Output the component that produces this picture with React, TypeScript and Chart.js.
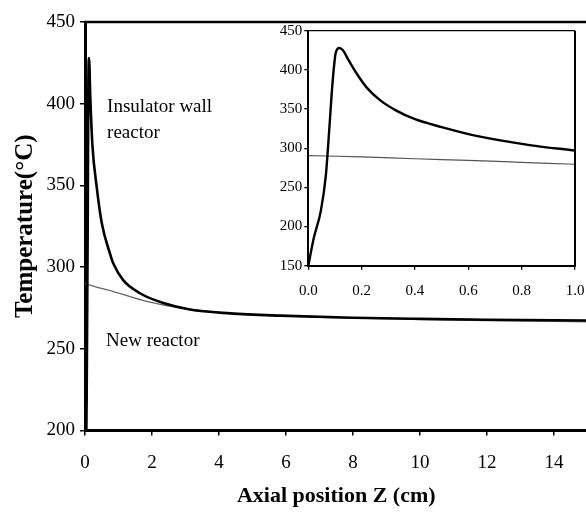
import React, { useEffect, useRef } from 'react';
import { Chart, registerables } from 'chart.js';

Chart.register(...registerables);

const SERIF = "'Liberation Serif', 'Times New Roman', Times, serif";

// ---- Main chart data (axial position in cm, temperature in °C) ----
const mainInsulatorZ = [0, 0.05, 0.08, 0.1, 0.12, 0.16, 0.22, 0.35, 0.5, 0.75, 0.85, 1.14, 1.64, 2.34, 3.13, 4.33, 5.82, 8, 10, 12, 15];
const mainInsulatorT = [150, 220, 321, 410, 428, 403, 375, 349, 327, 308, 302, 292, 284, 278, 274, 271.7, 270.3, 269, 268.3, 267.8, 267.3];
const mainNewZ = [0, 0.15, 0.85, 1.84, 2.84, 4.33, 6, 8, 10, 12, 15];
const mainNewT = [290, 289, 285, 279, 275, 271.7, 270, 268.8, 268, 267.3, 266.5];

// ---- Inset data (first 1 cm) ----
const insetInsulatorZ = [0, 0.021, 0.047, 0.066, 0.078, 0.091, 0.103, 0.116, 0.13, 0.15, 0.18, 0.22, 0.27, 0.33, 0.4, 0.5, 0.64, 0.83, 1.0];
const insetInsulatorT = [150, 186, 220, 266, 321, 384, 422, 428, 425, 413, 396, 377, 361, 348, 337, 327, 315, 304, 297];
const insetNewZ = [0, 0.2, 0.4, 0.6, 0.8, 1.0];
const insetNewT = [290.5, 289, 286.5, 284.5, 282, 279.5];

// ---- Axis settings ----
const mainXMin = 0, mainXMax = 15, mainXStep = 2, mainXLastTick = 14;
const mainYMin = 200, mainYMax = 450, mainYStep = 50;
const insetXMin = 0, insetXMax = 1, insetXStep = 0.2;
const insetYMin = 150, insetYMax = 450, insetYStep = 50;

const xTitle = 'Axial position Z (cm)';
const yTitle = 'Temperature(°C)';

// text annotations anchored in data coordinates
const annotationTexts = ['Insulator wall', 'reactor', 'New reactor'];
const annotationZ = [0.66, 0.66, 0.63];
const annotationT = [398, 382, 254.8];

const pts = (xs: number[], ys: number[]) => xs.map((x, i) => ({ x, y: ys[i] }));

const noEdgePadding = (s: any) => {
  s.paddingLeft = 0;
  s.paddingRight = 0;
  s.paddingTop = 0;
  s.paddingBottom = 0;
};

const mainFrame = {
  id: 'mainFrame',
  afterDraw(chart: any) {
    const { ctx, chartArea } = chart;
    ctx.save();
    ctx.strokeStyle = '#000';
    ctx.lineWidth = 2.5;
    ctx.beginPath();
    ctx.moveTo(chartArea.left - 1, chartArea.top);
    ctx.lineTo(chart.width, chartArea.top);
    ctx.stroke();
    ctx.restore();
  },
};

const mainLabels = {
  id: 'mainLabels',
  afterDatasetsDraw(chart: any) {
    const { ctx, scales } = chart;
    ctx.save();
    ctx.fillStyle = '#000';
    ctx.font = `19px ${SERIF}`;
    ctx.textAlign = 'left';
    ctx.textBaseline = 'middle';
    annotationTexts.forEach((t, i) => {
      ctx.fillText(t, scales.x.getPixelForValue(annotationZ[i]), scales.y.getPixelForValue(annotationT[i]));
    });
    ctx.restore();
  },
};

const insetFrame = {
  id: 'insetFrame',
  afterDraw(chart: any) {
    const { ctx, chartArea } = chart;
    ctx.save();
    ctx.strokeStyle = '#000';
    ctx.lineWidth = 1.3;
    ctx.beginPath();
    ctx.moveTo(chartArea.left, chartArea.top);
    ctx.lineTo(chartArea.right, chartArea.top);
    ctx.stroke();
    ctx.lineWidth = 2;
    ctx.beginPath();
    ctx.moveTo(chartArea.right, chartArea.top);
    ctx.lineTo(chartArea.right, chartArea.bottom + 1);
    ctx.stroke();
    ctx.restore();
  },
};

export default function App() {
  const mainRef = useRef<HTMLCanvasElement>(null);
  const insetRef = useRef<HTMLCanvasElement>(null);

  useEffect(() => {
    if (!mainRef.current || !insetRef.current) return;
    const tickGrid = { drawOnChartArea: false, drawTicks: true, tickLength: 5, color: '#000', lineWidth: 1.5 };

    const main = new Chart(mainRef.current, {
      type: 'line',
      data: {
        datasets: [
          {
            label: 'Insulator wall reactor',
            data: pts(mainInsulatorZ, mainInsulatorT),
            borderColor: '#000',
            borderWidth: 2.6,
            pointRadius: 0,
            cubicInterpolationMode: 'monotone',
            fill: false,
          },
          {
            label: 'New reactor',
            data: pts(mainNewZ, mainNewT),
            borderColor: '#666',
            borderWidth: 1.3,
            pointRadius: 0,
            cubicInterpolationMode: 'monotone',
            fill: false,
          },
        ],
      },
      options: {
        animation: false,
        responsive: false,
        layout: { padding: { left: 0, top: 22, right: 12.5, bottom: 0 } },
        plugins: { legend: { display: false }, tooltip: { enabled: false } },
        scales: {
          x: {
            type: 'linear',
            min: mainXMin,
            max: mainXMax,
            bounds: 'data',
            ticks: { stepSize: mainXStep, color: '#000', font: { family: SERIF, size: 19 }, padding: 16, maxRotation: 0 },
            afterBuildTicks: (s: any) => { s.ticks = s.ticks.filter((t: any) => t.value <= mainXLastTick); },
            grid: tickGrid,
            border: { display: true, color: '#000', width: 3 },
            title: { display: true, text: xTitle, color: '#000', font: { family: SERIF, size: 22, weight: 'bold' }, padding: { top: 0, bottom: 8 } },
            afterFit: (s: any) => { s.height = 87.5; noEdgePadding(s); },
          },
          y: {
            type: 'linear',
            min: mainYMin,
            max: mainYMax,
            bounds: 'data',
            ticks: { stepSize: mainYStep, color: '#000', font: { family: SERIF, size: 19 }, padding: 5 },
            grid: tickGrid,
            border: { display: true, color: '#000', width: 3 },
            title: { display: true, text: yTitle, color: '#000', font: { family: SERIF, size: 25, weight: 'bold' }, padding: { top: 11, bottom: 0 } },
            afterFit: (s: any) => { s.width = 85; noEdgePadding(s); },
          },
        },
      },
      plugins: [mainFrame, mainLabels],
    } as any);

    const inset = new Chart(insetRef.current, {
      type: 'line',
      data: {
        datasets: [
          {
            label: 'Insulator wall reactor',
            data: pts(insetInsulatorZ, insetInsulatorT),
            borderColor: '#000',
            borderWidth: 2.4,
            pointRadius: 0,
            cubicInterpolationMode: 'monotone',
            fill: false,
          },
          {
            label: 'New reactor',
            data: pts(insetNewZ, insetNewT),
            borderColor: '#555',
            borderWidth: 1.2,
            pointRadius: 0,
            cubicInterpolationMode: 'monotone',
            fill: false,
          },
        ],
      },
      options: {
        animation: false,
        responsive: false,
        layout: { padding: { left: 0, top: 15.7, right: 15, bottom: 0 } },
        plugins: { legend: { display: false }, tooltip: { enabled: false } },
        scales: {
          x: {
            type: 'linear',
            min: insetXMin,
            max: insetXMax,
            bounds: 'data',
            ticks: { stepSize: insetXStep, color: '#000', font: { family: SERIF, size: 15 }, padding: 12, maxRotation: 0, callback: (v: any) => Number(v).toFixed(1) },
            grid: { ...tickGrid, tickLength: 4, lineWidth: 1.3 },
            border: { display: true, color: '#000', width: 2 },
            afterFit: (s: any) => { s.height = 49.3; noEdgePadding(s); },
          },
          y: {
            type: 'linear',
            min: insetYMin,
            max: insetYMax,
            bounds: 'data',
            ticks: { stepSize: insetYStep, color: '#000', font: { family: SERIF, size: 15 }, padding: 2 },
            grid: { ...tickGrid, tickLength: 4, lineWidth: 1.3 },
            border: { display: true, color: '#000', width: 2 },
            afterFit: (s: any) => { s.width = 58.3; noEdgePadding(s); },
          },
        },
      },
      plugins: [insetFrame],
    } as any);

    return () => {
      main.destroy();
      inset.destroy();
    };
  }, []);

  return (
    <div style={{ position: 'fixed', left: 0, top: 0, width: 586, height: 518, overflow: 'hidden', background: '#fff' }}>
      <canvas ref={mainRef} width={600} height={518} style={{ position: 'absolute', left: 0, top: 0 }} />
      <canvas ref={insetRef} width={340} height={300} style={{ position: 'absolute', left: 250, top: 15 }} />
    </div>
  );
}
